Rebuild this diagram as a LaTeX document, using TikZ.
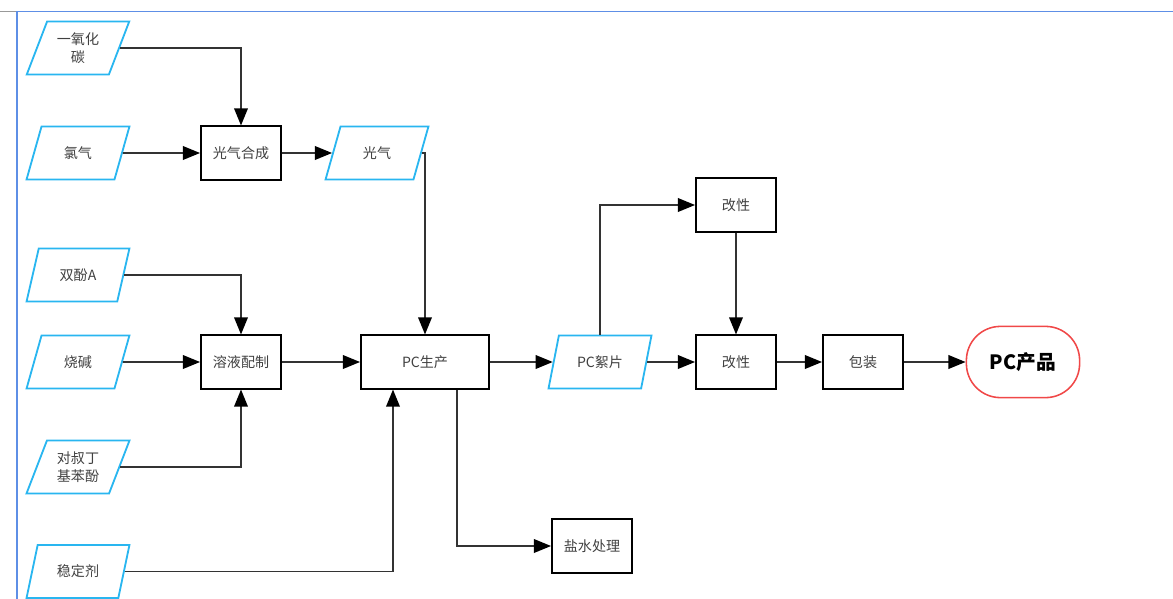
\documentclass[tikz,border=0pt]{standalone}
\usepackage{fontspec}
\usepackage{tikz}
\usetikzlibrary{arrows.meta, positioning, shapes.geometric, calc}
\newfontfamily\cjk{Noto Sans CJK SC}
\definecolor{inblue}{HTML}{29B6F0}
\definecolor{prodred}{HTML}{F04848}
\definecolor{frameblue}{HTML}{5E8FE6}
\definecolor{txtgray}{HTML}{404040}
\tikzset{
    inp/.style={trapezium, trapezium left angle=66, trapezium right angle=114,
      trapezium stretches=true,
      draw=inblue, line width=1.3pt, minimum width=2.575cm, minimum height=1.325cm,
      inner sep=0pt, align=center, text=txtgray,
      font=\cjk\fontsize{10pt}{13pt}\selectfont},
    proc/.style={rectangle, draw=black, line width=1.3pt, minimum width=2cm,
      minimum height=1.33cm, inner sep=1pt, text=txtgray,
      font=\cjk\fontsize{10pt}{13pt}\selectfont},
    prod/.style={rectangle, rounded corners=0.85cm, draw=prodred, line width=1.1pt,
      minimum width=2.83cm, minimum height=1.78cm,
      font=\cjk\bfseries\fontsize{14pt}{16pt}\selectfont},
}
\begin{document}
\begin{tikzpicture}[x=0.025cm, y=-0.025cm]
    \tikzset{
      flow/.style={draw=black!80, line width=1.3pt,
        -{Triangle[length=4.3mm, width=3.4mm, color=black]}},
    }
    \useasboundingbox (0,0) rectangle (1173,599);
    \draw[black!40, line width=0.8pt] (0,11.5) -- (17,11.5);
    \draw[frameblue, line width=1.2pt] (1173,11.5) -- (17,11.5) -- (17,599);

    % raw materials
    \node[inp] (co)   at (78,48)    {一氧化\\碳};
    \node[inp] (cl)   at (78,153)   {氯气};
    \node[inp] (bpa)  at (78,275)   {双酚A};
    \node[inp] (naoh) at (78,362)   {烧碱};
    \node[inp] (ptbp) at (78,467)   {对叔丁\\基苯酚};
    \node[inp] (stab) at (78,571.5) {稳定剂};

    % process
    \node[proc] (syn)  at (241,153) {光气合成};
    \node[inp]  (gas)  at (377,153) {光气};
    \node[proc] (sol)  at (241,362) {溶液配制};
    \node[proc, minimum width=3.2cm] (pc) at (425,362) {PC生产};
    \node[proc] (salt) at (592,546) {盐水处理};
    \node[inp]  (flk)  at (600,362) {PC絮片};
    \node[proc] (mod1) at (736,205) {改性};
    \node[proc] (mod2) at (736,362) {改性};
    \node[proc] (pack) at (863,362) {包装};
    \node[prod] (out)  at (1023,362) {PC产品};

    \draw[flow] (co) -| (syn);
    \draw[flow] (cl) -- (syn);
    \draw[flow] (syn) -- (gas);
    \draw[flow] (gas) -| (pc);
    \draw[flow] (bpa) -| (sol);
    \draw[flow] (naoh) -- (sol);
    \draw[flow] (ptbp) -| (sol);
    \draw[flow] (sol) -- (pc);
    \draw[flow] (stab) -| ([xshift=-0.8cm]pc.south);
    \draw[flow] ([xshift=0.8cm]pc.south) |- (salt);
    \draw[flow] (pc) -- (flk);
    \draw[flow] (flk) |- (mod1);
    \draw[flow] (flk) -- (mod2);
    \draw[flow] (mod1) -- (mod2);
    \draw[flow] (mod2) -- (pack);
    \draw[flow] (pack) -- (out);
\end{tikzpicture}
\end{document}
